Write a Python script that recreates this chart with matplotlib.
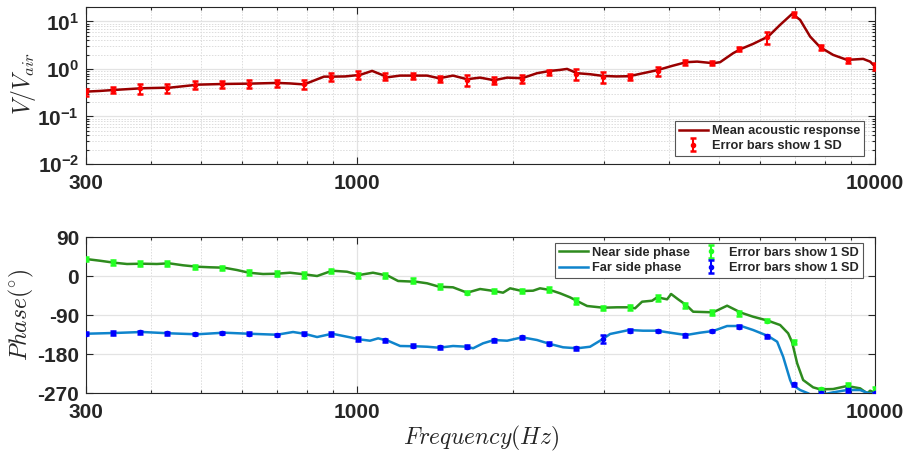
import matplotlib
matplotlib.use('Agg')
import matplotlib.pyplot as plt
from matplotlib.ticker import FixedLocator, NullFormatter

# ---------------- data ----------------
# Magnitude (top panel): mean acoustic response line
mag_line_freq = [300, 319, 340, 385, 436, 494, 557, 619, 701, 743, 791, 864, 896, 949, 1014,
                 1070, 1148, 1212, 1301, 1366, 1441, 1533, 1632, 1729, 1840, 1950, 2084, 2227,
                 2360, 2467, 2545, 2661, 2819, 2987, 3164, 3353, 3568, 3798, 4059, 4320, 4537,
                 4871, 5024, 5324, 5516, 5818, 6220, 6560, 6920, 7170, 7496, 7837, 8303, 8835,
                 9487, 9787, 10000]
mag_line = [0.333, 0.344, 0.361, 0.392, 0.404, 0.467, 0.483, 0.490, 0.507, 0.495, 0.472, 0.688,
            0.688, 0.695, 0.748, 0.908, 0.669, 0.723, 0.723, 0.723, 0.637, 0.723, 0.607, 0.656,
            0.578, 0.656, 0.637, 0.812, 0.908, 0.953, 1.0, 0.812, 0.773, 0.712, 0.695, 0.702,
            0.812, 0.939, 1.157, 1.384, 1.424, 1.318, 1.384, 2.141, 2.637, 3.360, 4.786, 8.44,
            14.38, 10.75, 4.786, 2.862, 1.971, 1.547, 1.624, 1.424, 1.118]

# Error-bar sample frequencies (shared by both panels)
eb_freq = [300, 339, 382, 431, 487, 549, 620, 700, 790, 891, 1006, 1135, 1281, 1446, 1632,
           1842, 2079, 2346, 2648, 2989, 3373, 3807, 4296, 4849, 5473, 6176, 6971, 7867, 8879,
           10000]
eb_mag = [0.33, 0.36, 0.39, 0.40, 0.47, 0.48, 0.49, 0.51, 0.49, 0.69, 0.75, 0.69, 0.72, 0.62,
          0.59, 0.57, 0.62, 0.85, 0.79, 0.69, 0.69, 0.91, 1.38, 1.34, 2.6, 4.6, 14.2, 2.86,
          1.52, 1.12]
eb_mag_sd = [0.055, 0.049, 0.088, 0.09, 0.085, 0.086, 0.088, 0.085, 0.104, 0.134, 0.146, 0.115,
             0.107, 0.093, 0.151, 0.094, 0.112, 0.115, 0.2, 0.176, 0.093, 0.205, 0.186, 0.12,
             0.27, 1.24, 1.9, 0.39, 0.205, 0.185]

# Phase (bottom panel)
near_line_freq = [300, 319, 340, 360, 385, 411, 434, 462, 491, 521, 554, 587, 619, 659, 701,
                  743, 791, 838, 896, 957, 1010, 1074, 1148, 1201, 1301, 1366, 1441, 1533, 1632,
                  1729, 1840, 1915, 1976, 2084, 2188, 2257, 2360, 2467, 2579, 2661, 2782, 2987,
                  3179, 3353, 3443, 3552, 3714, 3798, 3970, 4041, 4169, 4320, 4457, 4871, 5183,
                  5516, 5818, 6220, 6560, 6798, 6920, 7076, 7267, 7597, 7837, 8303, 8835, 9361,
                  9657, 9787, 10000]
near_line = [39.2, 35.3, 30.7, 27.7, 28.4, 27.7, 29.3, 24.7, 21.5, 20.1, 19.2, 13.8, 7.6, 4.6,
             5.3, 7.6, 3.9, 0, 12.2, 9.9, 2.3, 7.6, 0.7, -11.5, -13.2, -16.8, -24.7, -26.1,
             -38.5, -30, -34.6, -38.5, -28.4, -34.6, -33.9, -28.4, -32.3, -39.9, -49.2, -57.7,
             -69.2, -73.1, -72.2, -72.2, -74.5, -59.3, -57, -49.2, -53.8, -41.5, -53.8, -66.9,
             -82.4, -83.8, -68.5, -84.7, -93.9, -103.2, -113.1, -132.2, -153, -201.5, -240,
             -256.9, -261.5, -260.8, -253.8, -259.2, -270.7, -264.7, -269.3]

far_line_freq = [300, 340, 385, 434, 491, 554, 619, 701, 753, 791, 838, 896, 970, 1010, 1060,
                 1099, 1148, 1212, 1301, 1366, 1441, 1533, 1632, 1676, 1752, 1840, 1950, 2084,
                 2227, 2360, 2500, 2661, 2819, 2987, 3081, 3353, 3568, 3798, 4023, 4320, 4598,
                 4871, 5183, 5516, 5818, 6220, 6474, 6649, 6859, 6920, 7170, 7430, 7597, 7837,
                 8303, 8835, 9361, 9657, 10000]
far_line = [-133.2, -131.5, -129.2, -132.2, -134.5, -130.8, -133.2, -135.5, -129.2, -133.2,
            -140.8, -133.2, -141.5, -146.1, -149.3, -143.8, -149.3, -161.5, -162.2, -163.2,
            -165.5, -161.5, -163.2, -166.8, -155.3, -147.7, -149.3, -141.5, -147.7, -156.9,
            -164.5, -166.8, -163.2, -145, -133.8, -124.6, -126.2, -126.2, -130.8, -136.2,
            -130.8, -126.9, -115.4, -115.4, -124.6, -138.5, -151.6, -186.2, -240, -250.8,
            -263.1, -270.7, -276.9, -274.6, -268.4, -263.1, -263.1, -269.3, -272.3]

eb_near = [39, 31.5, 28.5, 28.5, 21.5, 18.5, 8.5, 5.4, 2.3, 11.5, 1.5, 0.8, -10.8, -24.6,
           -38.5, -34.6, -34.6, -31.5, -57.7, -73.8, -72.3, -50.8, -67.7, -84.6, -86.2, -103,
           -153, -261.5, -252, -263]
eb_near_sd = [4, 5, 5, 5, 5, 5, 6, 5, 8, 5, 5, 6, 6, 5, 4, 4, 4, 5, 6, 5, 5, 6, 6, 6, 5, 4,
              5, 4, 6, 6]
eb_far = [-133, -131.5, -130, -132, -134, -131.5, -133, -136, -133, -134, -145, -148.5, -160.8,
          -164.6, -163, -148.5, -141.5, -156, -166.9, -145, -126, -127, -137, -127, -117, -139,
          -250, -270, -263, -270]
eb_far_sd = [3, 4, 3, 3, 3, 3, 3, 3, 3, 4, 4, 4, 4, 3, 3, 4, 3, 4, 3, 9, 3, 3, 3, 3, 3, 3, 4,
             4, 5, 3]

x_major = [300, 1000, 10000]
x_minor = [400, 500, 600, 700, 800, 900, 2000, 3000, 4000, 5000, 6000, 7000, 8000, 9000]
mag_ticks = [0.01, 0.1, 1, 10]
mag_ticklabels = [r'$\mathbf{10^{-2}}$', r'$\mathbf{10^{-1}}$', r'$\mathbf{10^{0}}$', r'$\mathbf{10^{1}}$']
phase_ticks = [-270, -180, -90, 0, 90]

# ---------------- style ----------------
plt.rcParams['font.family'] = ['Liberation Sans', 'DejaVu Sans']
plt.rcParams['font.weight'] = 'bold'
plt.rcParams['mathtext.fontset'] = 'custom'
plt.rcParams['mathtext.rm'] = 'Liberation Sans:bold'
plt.rcParams['mathtext.bf'] = 'Liberation Sans:bold'
plt.rcParams['mathtext.it'] = 'Liberation Sans:bold'

TXT = '#262626'
GRID = '#e3e3e3'

fig = plt.figure(figsize=(9.04, 4.57), dpi=100)
ax1 = fig.add_axes([0.0951, 0.6411, 0.8728, 0.3435])
ax2 = fig.add_axes([0.0951, 0.1400, 0.8728, 0.3414])

# ---- top panel ----
ax1.set_xscale('log')
ax1.set_yscale('log')
ax1.plot(mag_line_freq, mag_line, color='#990000', lw=1.8, label='Mean acoustic response', zorder=3)
ax1.errorbar(eb_freq, eb_mag, yerr=eb_mag_sd, fmt='o', ms=3, color='#ff0000', ecolor='#ff0000',
             elinewidth=1.5, capsize=2.5, capthick=1.8, label='Error bars show 1 SD', zorder=4)
ax1.set_xlim(300, 10000)
ax1.set_ylim(0.01, 20)
ax1.set_yticks(mag_ticks)
ax1.set_yticklabels(mag_ticklabels)
ax1.yaxis.set_minor_locator(FixedLocator([m * d for d in [0.01, 0.1, 1, 10] for m in range(2, 10) if m * d <= 20]))
ax1.yaxis.set_minor_formatter(NullFormatter())

# ---- bottom panel ----
ax2.set_xscale('log')
ax2.plot(near_line_freq, near_line, color='#2e8b1e', lw=1.8, label='Near side phase', zorder=3)
ax2.plot(far_line_freq, far_line, color='#0f84cc', lw=1.8, label='Far side phase', zorder=3)
ax2.errorbar(eb_freq, eb_near, yerr=eb_near_sd, fmt='o', ms=3, color='#22ff22', ecolor='#22ff22',
             elinewidth=1.5, capsize=2.5, capthick=1.8, label='Error bars show 1 SD', zorder=4)
ax2.errorbar(eb_freq, eb_far, yerr=eb_far_sd, fmt='o', ms=3, color='#0000ff', ecolor='#0000ff',
             elinewidth=1.5, capsize=2.5, capthick=1.8, label='Error bars show 1 SD', zorder=4)
ax2.set_xlim(300, 10000)
ax2.set_ylim(-270, 90)
ax2.set_yticks(phase_ticks)
ax2.set_yticklabels([str(t) for t in phase_ticks])

for ax in (ax1, ax2):
    ax.set_xticks(x_major)
    ax.set_xticklabels([str(t) for t in x_major])
    ax.xaxis.set_minor_locator(FixedLocator(x_minor))
    ax.xaxis.set_minor_formatter(NullFormatter())
    ax.tick_params(which='both', direction='in', top=True, right=True, color=TXT,
                   labelsize=15, labelcolor=TXT, width=0.8)
    ax.tick_params(which='major', length=5)
    ax.tick_params(which='minor', length=2.5)
    ax.tick_params(axis='x', pad=7)
    ax.tick_params(axis='y', pad=5)
    ax.grid(True, which='major', color=GRID, lw=0.9, ls='-', zorder=0)
    ax.grid(True, which='minor', axis='x', color='#dcdcdc', lw=0.7, ls=(0, (1.5, 1.5)), zorder=0)
    for s in ax.spines.values():
        s.set_color(TXT)
        s.set_linewidth(0.8)
    ax.set_axisbelow(True)

ax1.grid(True, which='minor', axis='y', color='#dcdcdc', lw=0.7, ls=(0, (1.5, 1.5)), zorder=0)
ax2.tick_params(axis='y', which='minor', left=False, right=False)

# legends
leg1 = ax1.legend(loc='lower right', bbox_to_anchor=(1 - 11 / 789, 8 / 157), borderaxespad=0,
                  fontsize=9.2, frameon=True, fancybox=False, framealpha=1, edgecolor='#555555',
                  handlelength=2.3, handletextpad=0.3, labelspacing=0.25, borderpad=0.3)
leg1.get_frame().set_linewidth(0.8)
for t in leg1.get_texts():
    t.set_color(TXT)

leg2 = ax2.legend(loc='upper right', bbox_to_anchor=(1 - 12 / 789, 1 - 6 / 156), borderaxespad=0,
                  ncol=2, fontsize=9.2, frameon=True, fancybox=False, framealpha=1,
                  edgecolor='#555555', handlelength=2.3, handletextpad=0.3, labelspacing=0.25,
                  borderpad=0.3, columnspacing=0.5)
leg2.get_frame().set_linewidth(0.8)
for t in leg2.get_texts():
    t.set_color(TXT)

# axis labels (LaTeX-like italic)
fig.text(0.026, 0.818, r'$V/V_{air}$', rotation=90, ha='center', va='center', fontsize=17,
         math_fontfamily='cm', color=TXT)
fig.text(0.024, 0.311, r'$Phase(^{\circ})$', rotation=90, ha='center', va='center', fontsize=17,
         math_fontfamily='cm', color=TXT)
fig.text(481 / 904, 0.040, r'$Frequency(Hz)$', ha='center', va='center', fontsize=17,
         math_fontfamily='cm', color=TXT)

fig.savefig('out.png', dpi=100)
